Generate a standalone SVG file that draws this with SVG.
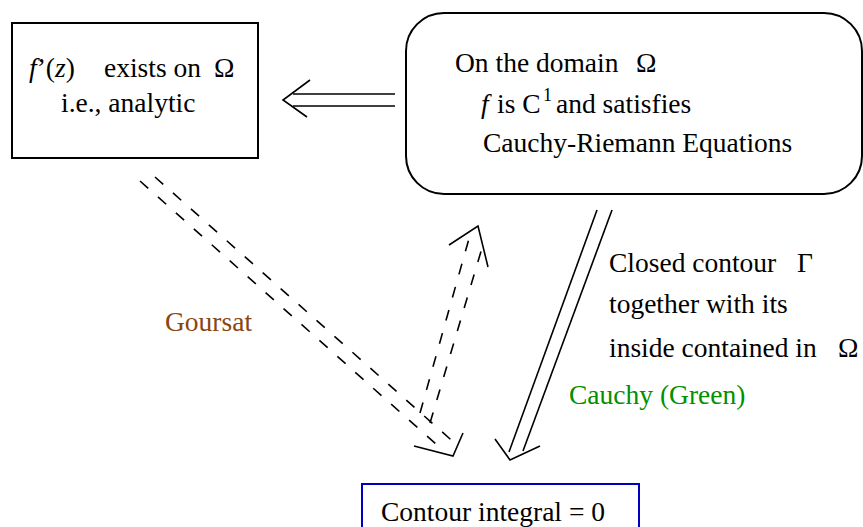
<svg xmlns="http://www.w3.org/2000/svg" width="863" height="527" viewBox="0 0 863 527">
<style>
text{font-family:"Liberation Serif","Times New Roman",serif;font-size:27.5px;fill:#000}
.box{fill:#fff;stroke:#000;stroke-width:2}
.ln{fill:none;stroke:#000;stroke-width:1.6}
.dash{fill:none;stroke:#000;stroke-width:1.6;stroke-dasharray:11 13}
.it{font-style:italic}
</style>
<rect width="863" height="527" fill="#fff"/>
<g id="node-analytic">
<rect class="box" x="12" y="23" width="246" height="135"/>
<text x="29" y="77"><tspan class="it">f</tspan>’(<tspan class="it">z</tspan>)</text>
<text x="104" y="77">exists on</text>
<text x="214" y="77">Ω</text>
<text x="61" y="112">i.e., analytic</text>
</g>
<g id="node-cr">
<rect class="box" x="406" y="13" width="456" height="181" rx="38" ry="38"/>
<text x="455" y="72">On the domain</text>
<text x="636" y="72">Ω</text>
<text x="481" y="113" class="it">f</text>
<text x="497" y="113">is C</text>
<text x="543" y="101" style="font-size:18px">1</text>
<text x="556" y="113">and satisfies</text>
<text x="483" y="152">Cauchy-Riemann Equations</text>
</g>
<g id="node-contour">
<rect x="362" y="484" width="277" height="60" fill="#fff" stroke="#0000c0" stroke-width="2"/>
<text x="381" y="521">Contour integral = 0</text>
</g>
<g id="connectors">
<line class="ln" x1="293" y1="94" x2="395" y2="94"/>
<line class="ln" x1="293" y1="106" x2="395" y2="106"/>
<polyline class="ln" points="310,80 283,100 307,117"/>
<line class="dash" x1="140" y1="181" x2="445" y2="452"/>
<line class="dash" x1="155" y1="177" x2="458" y2="446"/>
<polyline class="ln" points="414,446 453,456 463,433"/>
<line class="dash" x1="420" y1="413" x2="470" y2="235"/>
<line class="dash" x1="430" y1="423" x2="482" y2="248"/>
<polyline class="ln" points="449,245 478,226 488,267"/>
<line class="ln" x1="597" y1="210" x2="509" y2="452"/>
<line class="ln" x1="612" y1="210" x2="523" y2="451"/>
<polyline class="ln" points="495,439 510,460 540,446"/>
</g>
<g id="labels">
<text x="165" y="331" style="fill:#8b4513">Goursat</text>
<text x="609" y="272">Closed contour</text>
<text x="797" y="272">Γ</text>
<text x="609" y="313">together with its</text>
<text x="609" y="357">inside contained in</text>
<text x="838" y="357">Ω</text>
<text x="569" y="404" style="fill:#009000">Cauchy (Green)</text>
</g>
</svg>
